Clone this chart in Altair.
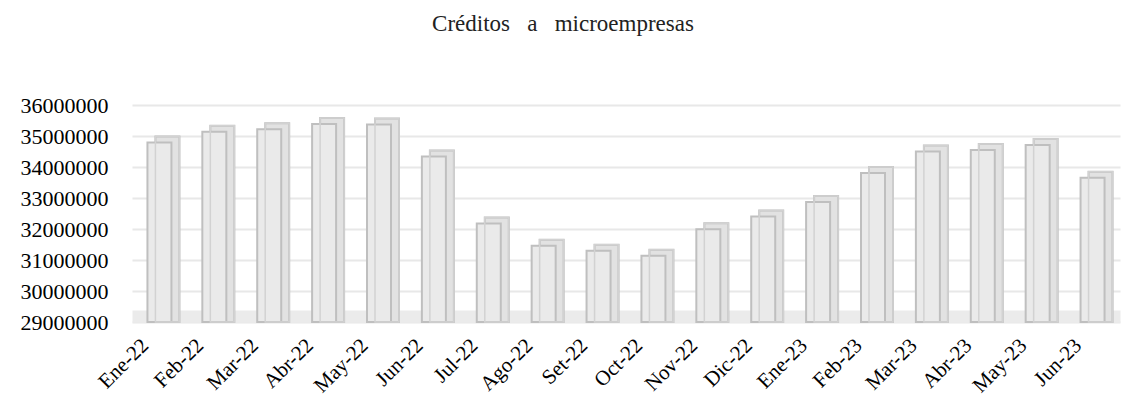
import altair as alt
import pandas as pd

months = ["Ene-22", "Feb-22", "Mar-22", "Abr-22", "May-22", "Jun-22", "Jul-22", "Ago-22", "Set-22",
          "Oct-22", "Nov-22", "Dic-22", "Ene-23", "Feb-23", "Mar-23", "Abr-23", "May-23", "Jun-23"]
values = [34790000, 35140000, 35220000, 35390000, 35370000, 34340000, 32180000, 31460000, 31300000,
          31140000, 31990000, 32400000, 32870000, 33810000, 34500000, 34550000, 34710000, 33650000]
y_ticks = [29000000, 30000000, 31000000, 32000000, 33000000, 34000000, 35000000, 36000000]
base_value = 29000000

df = pd.DataFrame({"mes": months, "valor": values})

FONT = "Liberation Serif"

x_enc = alt.X("mes:N", sort=months, title=None,
              scale=alt.Scale(paddingInner=0.56, paddingOuter=0.28),
              axis=alt.Axis(labelAngle=-45, labelAlign="right", labelBaseline="middle",
                            labelFont=FONT, labelFontSize=21, labelColor="#000000",
                            labelPadding=26, labelOffset=-14, ticks=False,
                            domainColor="#ebebeb", domainWidth=12, offset=-6))
y_enc = alt.Y("valor:Q", title=None,
              scale=alt.Scale(domain=[29000000, 36000000], zero=False, nice=False, clamp=True),
              axis=alt.Axis(values=y_ticks, format="d", labelFont=FONT, labelFontSize=22,
                            labelColor="#000000", labelPadding=24, ticks=False, domain=False,
                            gridColor="#e8e8e8", gridWidth=2))

base = alt.Chart(df).encode(x=x_enc, y=y_enc, y2=alt.datum(base_value))

back = base.mark_bar(size=24, xOffset=8, yOffset=-6, fill="#e2e2e2",
                     stroke="#bfbfbf", strokeWidth=2)
front = base.mark_bar(size=24, fill="#eaeaea", stroke="#bfbfbf", strokeWidth=2)
edges = base.mark_bar(size=24, xOffset=8, yOffset=-6, fillOpacity=0,
                      stroke="#d2d2d2", strokeWidth=1.5)

chart = alt.layer(back, front, edges).properties(
    width=988,
    height=217,
    padding={"left": 124, "top": 97, "right": 4, "bottom": 82},
    autosize=alt.AutoSizeParams(type="none"),
    title=alt.TitleParams(
        text="Créditos\u00a0\u00a0\u00a0a\u00a0\u00a0\u00a0microempresas",
        font=FONT, fontSize=23, fontWeight="normal", color="#222222",
        anchor="middle", frame="group", dx=-63, offset=40, baseline="alphabetic"),
).configure_view(stroke=None)

chart.save("out.html", embed_options={"renderer": "svg", "actions": False})
